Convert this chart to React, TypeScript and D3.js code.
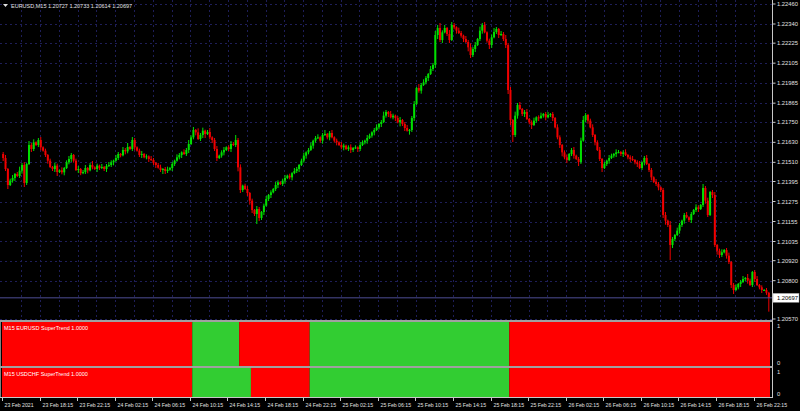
import React from "react";
import * as d3 from "d3";

// EURUSD M15 closes, in points above 1.20000 (1 point = 0.00001)
const firstOpen = 1560;
const closes = [
  1536, 1470, 1374, 1400, 1416, 1440, 1428, 1460, 1494, 1386,
  1500, 1614, 1590, 1630, 1614, 1644, 1600, 1580, 1554, 1520,
  1482, 1470, 1490, 1452, 1462, 1450, 1476, 1510, 1530, 1554,
  1520, 1464, 1470, 1445, 1452, 1476, 1462, 1494, 1480, 1470,
  1490, 1476, 1482, 1470, 1488, 1494, 1510, 1520, 1536, 1560,
  1552, 1584, 1576, 1602, 1590, 1644, 1600, 1580, 1554, 1560,
  1540, 1546, 1530, 1524, 1506, 1494, 1478, 1464, 1470, 1458,
  1466, 1476, 1500, 1520, 1540, 1554, 1570, 1560, 1584, 1620,
  1660, 1704, 1690, 1650, 1674, 1700, 1680, 1692, 1660, 1644,
  1590, 1536, 1550, 1570, 1584, 1600, 1590, 1620, 1614, 1644,
  1480, 1344, 1370, 1350, 1326, 1280, 1224, 1200, 1230, 1176,
  1212, 1250, 1290, 1314, 1330, 1350, 1374, 1390, 1380, 1400,
  1416, 1430, 1420, 1445, 1458, 1470, 1494, 1520, 1550, 1570,
  1584, 1610, 1640, 1656, 1660, 1640, 1674, 1680, 1660, 1686,
  1660, 1640, 1630, 1614, 1600, 1610, 1590, 1600, 1584, 1596,
  1600, 1590, 1614, 1630, 1640, 1656, 1670, 1690, 1704, 1720,
  1740, 1752, 1790, 1812, 1800, 1780, 1790, 1776, 1750, 1764,
  1740, 1716, 1700, 1704, 1776, 1860, 1956, 1940, 1974, 1990,
  2016, 2040, 2070, 2094, 2274, 2316, 2244, 2290, 2316, 2280,
  2244, 2334, 2320, 2300, 2286, 2270, 2250, 2232, 2200, 2154,
  2190, 2214, 2250, 2300, 2334, 2290, 2240, 2214, 2260, 2292,
  2310, 2274, 2280, 2250, 2214, 1944, 1764, 1674, 1790, 1854,
  1830, 1800, 1812, 1770, 1750, 1734, 1760, 1780, 1776, 1790,
  1800, 1780, 1794, 1800, 1776, 1720, 1660, 1614, 1570, 1540,
  1524, 1560, 1584, 1550, 1530, 1512, 1640, 1764, 1794, 1760,
  1720, 1674, 1630, 1584, 1530, 1476, 1500, 1520, 1536, 1550,
  1560, 1570, 1572, 1560, 1570, 1554, 1540, 1530, 1524, 1510,
  1500, 1476, 1510, 1536, 1500, 1464, 1420, 1392, 1380, 1360,
  1344, 1194, 1160, 1134, 1014, 1050, 1074, 1100, 1134, 1160,
  1194, 1180, 1164, 1200, 1224, 1240, 1230, 1254, 1356, 1280,
  1194, 1332, 1314, 1014, 980, 954, 970, 984, 950, 912,
  774, 744, 760, 780, 792, 810, 816, 800, 774, 852,
  810, 774, 760, 744, 744, 727, 697,
];
// upper / lower wick lengths in points
const hiWick = [
  12, 18, 6, 12, 18, 6, 12, 24, 12, 18,
  6, 24, 12, 18, 6, 12, 18, 6, 12, 6,
  12, 6, 18, 12, 6, 18, 6, 12, 18, 12,
  6, 12, 18, 6, 12, 18, 6, 12, 24, 6,
  12, 6, 18, 6, 12, 18, 12, 6, 18, 12,
  6, 18, 12, 24, 6, 18, 12, 6, 12, 18,
  6, 12, 6, 18, 12, 6, 12, 18, 6, 12,
  18, 6, 12, 6, 18, 12, 6, 18, 12, 24,
  12, 18, 6, 24, 12, 18, 6, 12, 24, 6,
  12, 18, 6, 12, 18, 6, 12, 18, 12, 30,
  12, 18, 6, 12, 18, 6, 12, 6, 18, 12,
  6, 12, 18, 6, 12, 6, 18, 12, 6, 12,
  18, 6, 12, 6, 18, 12, 6, 12, 18, 6,
  12, 18, 6, 12, 18, 6, 12, 24, 6, 12,
  18, 6, 12, 6, 18, 12, 6, 12, 18, 6,
  12, 6, 18, 12, 6, 18, 12, 6, 12, 18,
  6, 12, 24, 12, 6, 18, 12, 6, 12, 18,
  6, 12, 18, 6, 12, 18, 6, 24, 12, 18,
  12, 6, 18, 12, 24, 18, 30, 12, 18, 6,
  24, 18, 12, 6, 18, 12, 6, 18, 12, 24,
  12, 18, 6, 24, 12, 18, 6, 12, 18, 24,
  12, 6, 18, 12, 24, 12, 18, 6, 24, 12,
  18, 6, 12, 18, 6, 12, 18, 6, 12, 18,
  6, 12, 18, 6, 12, 6, 18, 12, 6, 12,
  18, 6, 12, 18, 6, 12, 18, 24, 12, 6,
  12, 18, 6, 12, 18, 6, 12, 6, 18, 12,
  6, 18, 12, 6, 12, 18, 6, 12, 18, 6,
  12, 18, 6, 12, 18, 6, 12, 6, 18, 12,
  6, 12, 18, 6, 24, 12, 6, 18, 12, 6,
  12, 18, 6, 12, 6, 18, 12, 6, 24, 12,
  18, 6, 12, 18, 6, 12, 18, 6, 12, 18,
  6, 12, 18, 6, 12, 18, 6, 24, 12, 6,
  12, 18, 6, 12, 6, 12, 6,
];
const loWick = [
  18, 12, 24, 6, 12, 18, 6, 12, 18, 24,
  12, 6, 18, 12, 6, 12, 18, 6, 12, 18,
  6, 12, 18, 24, 6, 12, 18, 6, 12, 18,
  12, 6, 18, 12, 6, 12, 18, 6, 12, 6,
  18, 12, 6, 12, 18, 6, 12, 18, 6, 12,
  12, 6, 18, 12, 6, 12, 18, 6, 12, 18,
  6, 12, 18, 6, 12, 18, 6, 12, 24, 18,
  12, 6, 18, 12, 6, 12, 18, 6, 12, 18,
  6, 12, 18, 6, 12, 18, 24, 6, 12, 18,
  12, 18, 6, 12, 18, 6, 12, 18, 6, 12,
  24, 18, 12, 6, 18, 24, 18, 12, 60, 18,
  12, 18, 6, 12, 18, 6, 12, 18, 6, 12,
  18, 6, 12, 18, 6, 12, 18, 6, 12, 18,
  12, 6, 18, 12, 6, 12, 18, 6, 12, 18,
  6, 12, 18, 6, 12, 18, 6, 12, 18, 12,
  6, 18, 12, 6, 12, 18, 6, 12, 18, 6,
  12, 18, 6, 12, 18, 6, 12, 18, 6, 24,
  12, 18, 6, 24, 12, 18, 6, 12, 18, 6,
  12, 18, 6, 12, 18, 24, 12, 18, 6, 12,
  18, 6, 12, 18, 6, 12, 18, 6, 24, 18,
  12, 18, 6, 12, 18, 6, 12, 24, 18, 6,
  12, 18, 6, 12, 18, 24, 30, 42, 12, 18,
  6, 12, 18, 6, 12, 24, 6, 12, 18, 6,
  12, 18, 6, 12, 18, 6, 12, 18, 24, 12,
  18, 6, 12, 18, 6, 24, 12, 6, 12, 18,
  6, 12, 18, 6, 12, 24, 6, 12, 18, 6,
  12, 18, 6, 12, 18, 6, 12, 18, 6, 12,
  18, 6, 12, 18, 6, 12, 18, 6, 12, 18,
  12, 18, 24, 12, 90, 18, 12, 6, 18, 12,
  18, 6, 12, 18, 6, 12, 18, 6, 12, 18,
  12, 6, 18, 12, 24, 18, 12, 6, 18, 12,
  18, 24, 6, 12, 18, 6, 12, 18, 6, 12,
  18, 6, 12, 18, 6, 12, 83,
];

const priceTicks = [
  "1.22460", "1.22340", "1.22225", "1.22105", "1.21985", "1.21865", "1.21750", "1.21630",
  "1.21510", "1.21395", "1.21275", "1.21155", "1.21035", "1.20920", "1.20800", "1.20570",
];
const lastPrice = "1.20697";
const titleText = "EURUSD,M15  1.20727 1.20733 1.20614 1.20697";

const timeLabels = [
  "23 Feb 2021", "23 Feb 18:15", "23 Feb 22:15", "24 Feb 02:15", "24 Feb 06:15", "24 Feb 10:15",
  "24 Feb 14:15", "24 Feb 18:15", "24 Feb 22:15", "25 Feb 02:15", "25 Feb 06:15", "25 Feb 10:15",
  "25 Feb 14:15", "25 Feb 18:15", "25 Feb 22:15", "26 Feb 02:15", "26 Feb 06:15", "26 Feb 10:15",
  "26 Feb 14:15", "26 Feb 18:15", "26 Feb 22:15",
];
const barsPerLabel = 16;
const barsPerGrid = 8;

const eurusdTrend = [
  { from: 0, to: 81, up: false },
  { from: 81, to: 101, up: true },
  { from: 101, to: 131, up: false },
  { from: 131, to: 216, up: true },
  { from: 216, to: 327, up: false },
];
const usdchfTrend = [
  { from: 0, to: 81, up: false },
  { from: 81, to: 106, up: true },
  { from: 106, to: 131, up: false },
  { from: 131, to: 216, up: true },
  { from: 216, to: 327, up: false },
];
const paneTitles = ["M15 EURUSD SuperTrend 1.0000", "M15 USDCHF SuperTrend 1.0000"];

const W = 800;
const H = 411;
const AXIS_X = 772.5;
const MAIN_BOTTOM = 320;
const FONT = "'Liberation Sans', Arial, sans-serif";
const TXT = "#e0e0e0";
const BULL = "#00e000";
const BEAR = "#f00000";
const GRID = "#1e1e58";

export default function App() {
  const n = closes.length;
  const x = d3.scaleLinear().domain([0, n]).range([2, 770]);
  const bw = x(1) - x(0);
  const y = d3.scaleLinear().domain([1.20564, 1.22484]).range([MAIN_BOTTOM, 0]);
  const p = (v: number) => 1.2 + v / 100000;

  const candles = closes.map((c, i) => {
    const o = i === 0 ? firstOpen : closes[i - 1];
    return {
      i,
      o: p(o),
      c: p(c),
      h: p(Math.max(o, c) + hiWick[i]),
      l: p(Math.min(o, c) - loWick[i]),
    };
  });

  const panes = [
    { top: 322, bottom: 366, data: eurusdTrend, title: paneTitles[0] },
    { top: 368, bottom: 397, data: usdchfTrend, title: paneTitles[1] },
  ];

  const gridXs = d3.range(barsPerGrid, n, barsPerGrid).map((b) => x(b) + 0.5);

  return (
    <svg
      width={W}
      height={H}
      style={{ position: "fixed", left: 0, top: 0, background: "#000" }}
      fontFamily={FONT}
    >
      <rect x={0} y={0} width={W} height={H} fill="#000" />
      {/* grid */}
      <g stroke={GRID} strokeWidth={1} strokeDasharray="2,3">
        {priceTicks.map((t) => (
          <line key={t} x1={0} x2={AXIS_X} y1={Math.round(y(+t)) + 0.5} y2={Math.round(y(+t)) + 0.5} />
        ))}
        {gridXs.map((gx, k) => (
          <line key={k} x1={Math.round(gx) + 0.5} x2={Math.round(gx) + 0.5} y1={0} y2={MAIN_BOTTOM} />
        ))}
      </g>
      {/* candles */}
      <g>
        {candles.map((d) => {
          const cx = x(d.i) + bw / 2;
          const col = d.c >= d.o ? BULL : BEAR;
          const yt = y(Math.max(d.o, d.c));
          const yb = y(Math.min(d.o, d.c));
          return (
            <g key={d.i}>
              <line x1={cx} x2={cx} y1={y(d.h)} y2={y(d.l)} stroke={col} strokeWidth={1} />
              <rect x={cx - 1} y={yt} width={2} height={Math.max(1, yb - yt)} fill={col} />
            </g>
          );
        })}
      </g>
      {/* bid line */}
      <line x1={0} x2={AXIS_X} y1={y(+lastPrice)} y2={y(+lastPrice)} stroke="#4e4e96" strokeWidth={1} />
      {/* title */}
      <path d="M3,4 L8,4 L5.5,7 Z" fill={TXT} />
      <text x={11} y={8} fontSize={5.5} fill={TXT}>
        {titleText}
      </text>
      {/* price axis */}
      <line x1={AXIS_X} x2={AXIS_X} y1={0} y2={398} stroke="#c8c8c8" strokeWidth={1} />
      {priceTicks.map((t) => (
        <g key={t}>
          <line x1={AXIS_X} x2={AXIS_X + 3} y1={y(+t)} y2={y(+t)} stroke="#c8c8c8" />
          <text x={777} y={y(+t) + 2} fontSize={5.8} fill={TXT}>
            {t}
          </text>
        </g>
      ))}
      <rect x={773} y={y(+lastPrice) - 4.5} width={26} height={9} fill="#fff" stroke="#999" strokeWidth={0.5} />
      <text x={777} y={y(+lastPrice) + 2} fontSize={5.8} fill="#000">
        {lastPrice}
      </text>
      {/* indicator panes */}
      <rect x={0} y={MAIN_BOTTOM} width={AXIS_X} height={2} fill="#a0a0a0" />
      <rect x={0} y={366} width={AXIS_X} height={2} fill="#a0a0a0" />
      {panes.map((pn, k) => (
        <g key={k}>
          <line x1={0.5} x2={0.5} y1={pn.top} y2={pn.bottom} stroke="#808080" />
          {pn.data.map((s, j) => (
            <rect
              key={j}
              x={x(s.from)}
              y={pn.top}
              width={x(s.to) - x(s.from)}
              height={pn.bottom - pn.top}
              fill={s.up ? "#32cd32" : "#ff0000"}
            />
          ))}
          <text x={4} y={pn.top + 8} fontSize={5.5} fill="#fff">
            {pn.title}
          </text>
          <text x={777} y={pn.top + 6} fontSize={5.8} fill={TXT}>
            1
          </text>
          <text x={777} y={pn.bottom - 1} fontSize={5.8} fill={TXT}>
            0
          </text>
        </g>
      ))}
      {/* time axis */}
      <line x1={0} x2={AXIS_X} y1={397.5} y2={397.5} stroke="#c8c8c8" />
      {timeLabels.map((t, k) => {
        const tx = Math.round(x(k * barsPerLabel)) + 0.5;
        return (
          <g key={t}>
            <line x1={tx} x2={tx} y1={397.5} y2={401} stroke="#c8c8c8" />
            <text x={tx + 2} y={407} fontSize={5.2} fill={TXT}>
              {t}
            </text>
          </g>
        );
      })}
    </svg>
  );
}
